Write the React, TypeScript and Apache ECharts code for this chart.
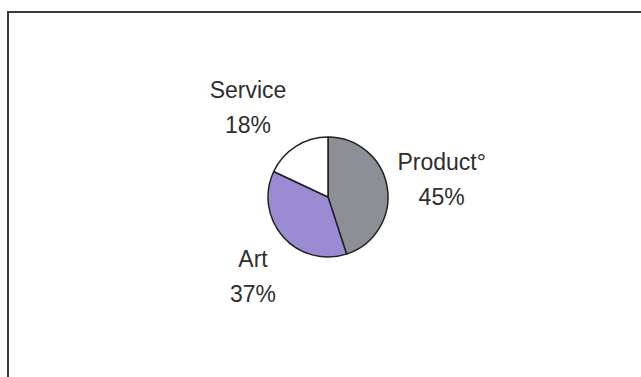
import React, { useEffect, useRef } from "react";
import * as echarts from "echarts";

const categories = ["Product°", "Art", "Service"];
const values = [45, 37, 18];
const colors = ["#8c8f96", "#9a8bd2", "#ffffff"];

const CX = 328;
const CY = 197;
const R = 60;
const LABEL_R = 112;
// small per-label nudges (px) from the radial label position
const labelNudge: Record<string, [number, number]> = {
  "Product°": [3, 0],
  Art: [9, 5],
  Service: [-20, 5],
};

export default function App() {
  const ref = useRef<HTMLDivElement>(null);
  useEffect(() => {
    if (!ref.current) return;
    const chart = echarts.init(ref.current, null, { renderer: "svg" });
    const total = values.reduce((a, b) => a + b, 0);
    const mids: number[] = [];
    let acc = 0;
    values.forEach((v) => {
      mids.push(((acc + v / 2) / total) * Math.PI * 2);
      acc += v;
    });
    chart.setOption({
      animation: false,
      backgroundColor: "#ffffff",
      graphic: [
        {
          type: "rect",
          shape: { x: 8, y: 12, width: 700, height: 420 },
          style: { fill: "none", stroke: "#3a3a3a", lineWidth: 2 },
          silent: true,
        },
      ],
      series: [
        {
          type: "pie",
          center: [CX, CY],
          radius: R,
          startAngle: 90,
          clockwise: true,
          itemStyle: { borderColor: "#222", borderWidth: 1.5 },
          label: {
            show: true,
            position: "outside",
            formatter: (p: any) => `${p.name}\n${p.value}%`,
            fontFamily: "Liberation Sans, Arial, sans-serif",
            fontSize: 23,
            lineHeight: 35,
            color: "#2e2e2e",
          },
          labelLine: { show: false, length: 20, length2: 0 },
          labelLayout: (p: any) => {
            const a = mids[p.dataIndex];
            const n = labelNudge[categories[p.dataIndex]] || [0, 0];
            return {
              x: CX + LABEL_R * Math.sin(a) + n[0],
              y: CY - LABEL_R * Math.cos(a) + n[1],
              align: "center",
              verticalAlign: "middle",
            };
          },
          data: categories.map((c, i) => ({
            name: c,
            value: values[i],
            itemStyle: { color: colors[i] },
          })),
        },
      ],
    });
    return () => chart.dispose();
  }, []);
  return (
    <div
      ref={ref}
      style={{ position: "absolute", left: 0, top: 0, width: 641, height: 377 }}
    />
  );
}
